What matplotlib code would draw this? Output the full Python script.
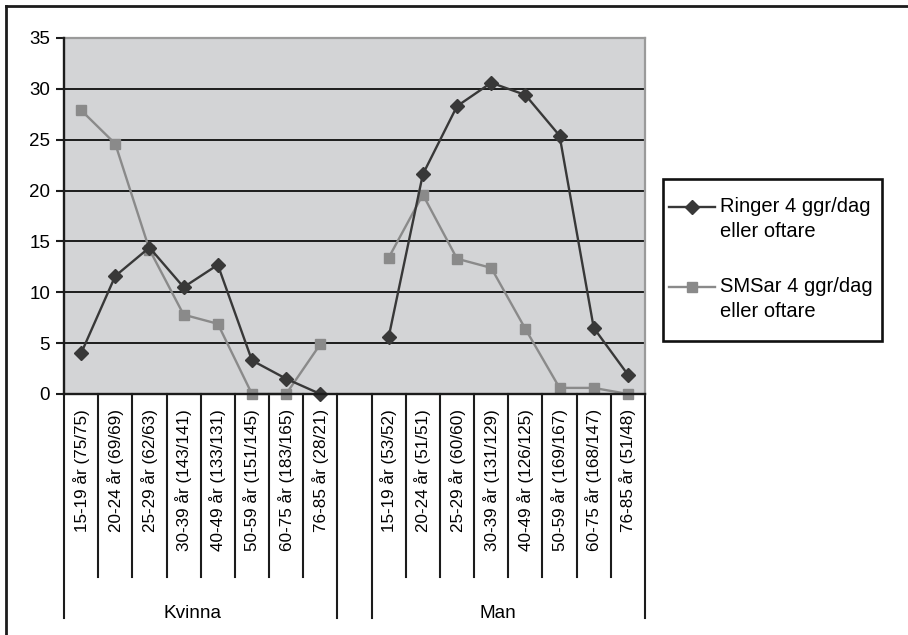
import matplotlib.pyplot as plt
import numpy as np
from matplotlib.lines import Line2D
from matplotlib.patches import Rectangle

plt.rcParams['font.family'] = ['Liberation Sans', 'DejaVu Sans']

# data
age_kvinna = ["15-19 år (75/75)", "20-24 år (69/69)", "25-29 år (62/63)", "30-39 år (143/141)",
              "40-49 år (133/131)", "50-59 år (151/145)", "60-75 år (183/165)", "76-85 år (28/21)"]
age_man = ["15-19 år (53/52)", "20-24 år (51/51)", "25-29 år (60/60)", "30-39 år (131/129)",
           "40-49 år (126/125)", "50-59 år (169/167)", "60-75 år (168/147)", "76-85 år (51/48)"]
groups = ["Kvinna", "Man"]
ringer_kvinna = [4.0, 11.6, 14.4, 10.5, 12.7, 3.3, 1.5, 0.0]
ringer_man = [5.6, 21.6, 28.3, 30.6, 29.4, 25.4, 6.5, 1.9]
sms_kvinna = [27.9, 24.6, 14.2, 7.8, 6.9, 0.0, 0.0, 4.9]
sms_man = [13.4, 19.6, 13.3, 12.4, 6.4, 0.6, 0.6, 0.0]
series_names = ["Ringer 4 ggr/dag\neller oftare", "SMSar 4 ggr/dag\neller oftare"]

W, H = 908, 635
def fx(px):
    return px / W
def fy(py):
    return 1 - py / H

# one empty slot between the two groups
labels = age_kvinna + [""] + age_man
ringer = ringer_kvinna + [np.nan] + ringer_man
sms = sms_kvinna + [np.nan] + sms_man
n = len(labels)
xpos = np.arange(n) + 0.5

dark = '#383838'
grey = '#8a8a8a'

fig = plt.figure(figsize=(W / 100, H / 100), dpi=100)
ax = fig.add_axes([fx(64), fy(394), fx(645) - fx(64), fy(38) - fy(394)])
ax.set_facecolor('#d3d4d6')

ax.set_xlim(0, n)
ax.set_ylim(0, 35)
ax.set_yticks(range(0, 36, 5))
for v in range(5, 35, 5):
    ax.axhline(v, color='#1c1c1c', lw=1.4, zorder=1)

l_sms, = ax.plot(xpos, sms, color=grey, lw=1.7, marker='s', ms=7.5, mfc=grey, mec=grey,
                 zorder=3, clip_on=False)
l_ring, = ax.plot(xpos, ringer, color=dark, lw=1.7, marker='D', ms=7.5, mfc=dark, mec=dark,
                  zorder=4, clip_on=False)

for s in ['top', 'right']:
    ax.spines[s].set_color('#9a9a9a')
    ax.spines[s].set_linewidth(1.6)
for s in ['left', 'bottom']:
    ax.spines[s].set_color('#1c1c1c')
    ax.spines[s].set_linewidth(1.7)
    ax.spines[s].set_zorder(5)

ax.tick_params(axis='y', length=6, width=1.5, color='#1c1c1c', labelsize=13.5, pad=4)
ax.tick_params(axis='x', length=0, labelbottom=False)

# category labels and separators below the axis
tr = ax.get_xaxis_transform()
ax_h = 394 - 38
for x, lab in zip(xpos, labels):
    ax.text(x, -15 / ax_h, lab, transform=tr, rotation=90, ha='center', va='top', fontsize=12.3)
long_seps = [0, len(age_kvinna), len(age_kvinna) + 1, n]
for b in range(n + 1):
    depth = 224 if b in long_seps else 183
    ax.plot([b, b], [0, -depth / ax_h], transform=tr, color='#1c1c1c', lw=1.5, clip_on=False)
group_x = [3.75, 12.7]
for gx, g in zip(group_x, groups):
    ax.text(gx, -219 / ax_h, g, transform=tr, ha='center', va='center', fontsize=13.7)

# legend box drawn by hand so the marker sits on the first text line
fig.add_artist(Rectangle((fx(663), fy(341)), fx(882) - fx(663), fy(179) - fy(341),
                         transform=fig.transFigure, fill=False, ec='#111111', lw=1.9))
for line, name, ly in [(l_ring, series_names[0], 207), (l_sms, series_names[1], 287)]:
    fig.add_artist(Line2D([fx(669), fx(715)], [fy(ly), fy(ly)], color=line.get_color(),
                          lw=line.get_linewidth(), transform=fig.transFigure))
    fig.add_artist(Line2D([fx(692)], [fy(ly)], marker=line.get_marker(), ms=7.5,
                          color=line.get_color(), transform=fig.transFigure))
    fig.text(fx(720), fy(ly - 10), name, ha='left', va='top', fontsize=14.5, linespacing=1.4)

# outer frame
fig.add_artist(Line2D([fx(6), 1.0], [fy(5.5), fy(5.5)], color='#1c1c1c', lw=2, transform=fig.transFigure))
fig.add_artist(Line2D([fx(6), fx(6)], [0.0, fy(5.5)], color='#1c1c1c', lw=2, transform=fig.transFigure))

fig.savefig('out.png', dpi=100)
